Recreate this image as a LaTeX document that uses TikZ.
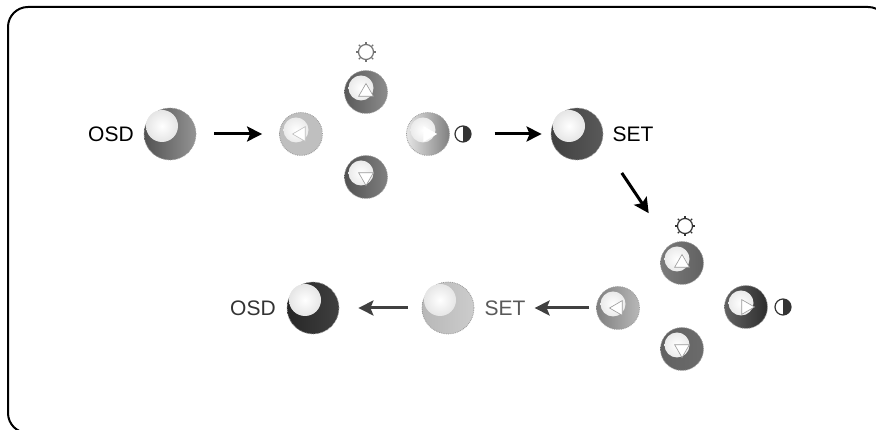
\documentclass[tikz,border=0pt]{standalone}
\usepackage{fontspec}
\setmainfont{Liberation Sans}
\usetikzlibrary{arrows.meta,shapes.geometric}

\tikzset{
  knob/.style n args={3}{circle,draw=black!40,densely dotted,line width=.8pt,inner sep=0pt,
    left color=black!#1,middle color=black!#2,right color=black!#3},
  big knob/.style={minimum size=52pt},
  small knob/.style={minimum size=43pt},
  big shine/.style={circle,inner sep=0pt,minimum size=32pt,xshift=-8pt,yshift=8pt,
    inner color=white,outer color=black!10},
  small shine/.style={circle,inner sep=0pt,minimum size=25pt,xshift=-5pt,yshift=4pt,
    inner color=white,outer color=black!8},
  mark tri/.style={regular polygon,regular polygon sides=3,inner sep=0pt,minimum size=17pt,
    fill=white,draw=black!40,line width=.6pt},
  label text/.style={font=\fontsize{21}{21}\selectfont,inner sep=0pt},
  sun icon/.style={circle,draw,line width=1.2pt,minimum size=15pt,inner sep=0pt},
  half icon/.style={circle,draw=black!80,line width=1.2pt,minimum size=16pt,inner sep=0pt,
    path picture={\fill[black!80] (path picture bounding box.north) rectangle (path picture bounding box.south east);}},
  step arrow/.style={-{Stealth[length=15pt,width=15pt,inset=3pt]},line width=3pt}
}

\begin{document}
\begin{tikzpicture}[x=1pt,y=1pt]
 \useasboundingbox (0,0) rectangle (876,430);
 \clip (0,0) rectangle (876,430);
 \draw[line width=2pt,rounded corners=20pt] (8,423) rectangle (888,-3);

 % top row
 \node[knob={68}{25}{42},big knob] (osd1) at (170,296) {};
 \node[big shine] (osd1s) at (osd1) {};
 \node[label text] (osd1t) [left of=osd1,node distance=59pt] {OSD};

 \node[knob={25}{14}{25},small knob] (left1) at (301,296) {};
 \node[small shine] (left1s) at (left1) {};
 \node[mark tri,rotate=90,draw=black!25] (left1m) at (left1) {};

 \node[knob={65}{38}{45},small knob] (up1) at (366,338) {};
 \node[small shine] (up1s) at (up1) {};
 \node[mark tri] (up1m) at (up1) {};
 \node[sun icon,draw=black!55] (sun1) [above of=up1,node distance=40pt] {};

 \node[knob={68}{55}{50},small knob] (down1) at (366,253) {};
 \node[small shine] (down1s) at (down1) {};
 \node[mark tri,rotate=180] (down1m) at (down1) {};

 \node[knob={10}{18}{50},small knob] (right1) at (428,296) {};
 \node[small shine] (right1s) at (right1) {};
 \node[mark tri,rotate=-90,draw=white] (right1m) at (right1) {};
 \node[half icon] (half1) [right of=right1,node distance=35pt] {};

 \node[knob={75}{42}{65},big knob] (set1) at (577,296) {};
 \node[big shine] (set1s) at (set1) {};
 \node[label text] (set1t) [right of=set1,node distance=56pt] {SET};

 % bottom row
 \node[knob={52}{55}{62},small knob] (up2) at (682,167) {};
 \node[small shine] (up2s) at (up2) {};
 \node[mark tri] (up2m) at (up2) {};
 \node[sun icon,draw=black!80] (sun2) at (685,204) {};

 \node[knob={50}{40}{28},small knob] (left2) at (618,122) {};
 \node[small shine] (left2s) at (left2) {};
 \node[mark tri,rotate=90] (left2m) at (left2) {};

 \node[knob={62}{72}{82},small knob] (right2) at (746,123) {};
 \node[small shine] (right2s) at (right2) {};
 \node[mark tri,rotate=-90] (right2m) at (right2) {};
 \node[half icon] (half2) [right of=right2,node distance=37pt] {};

 \node[knob={62}{75}{58},small knob] (down2) at (682,81) {};
 \node[small shine] (down2s) at (down2) {};
 \node[mark tri,rotate=180] (down2m) at (down2) {};

 \node[knob={28}{10}{20},big knob] (set2) at (448,122) {};
 \node[big shine] (set2s) at (set2) {};
 \node[label text,text=black!65] (set2t) [right of=set2,node distance=57pt] {SET};

 \node[knob={85}{78}{75},big knob] (osd2) at (313,122) {};
 \node[big shine] (osd2s) at (osd2) {};
 \node[label text,text=black!80] (osd2t) [left of=osd2,node distance=60pt] {OSD};

 % rays of the two suns
 \foreach \s/\c in {sun1/black!55,sun2/black!80}
   \foreach \a in {0,45,...,315}
     \draw[\c,line width=1.2pt] (\s.\a) -- ++(\a:2pt);

 \path[step arrow]
    (osd1)	edge [shorten <=18pt,shorten >=17pt] (left1)
    (half1)	edge [shorten <=23pt,shorten >=9pt] (set1)
    (set1.-20)	edge [shorten <=36pt,shorten >=38pt] (up2);
 \path[step arrow,black!75]
    (left2)	edge [shorten <=7pt,shorten >=9pt] (set2t)
    (set2)	edge [shorten <=14pt,shorten >=19pt] (osd2);

\end{tikzpicture}
\end{document}
